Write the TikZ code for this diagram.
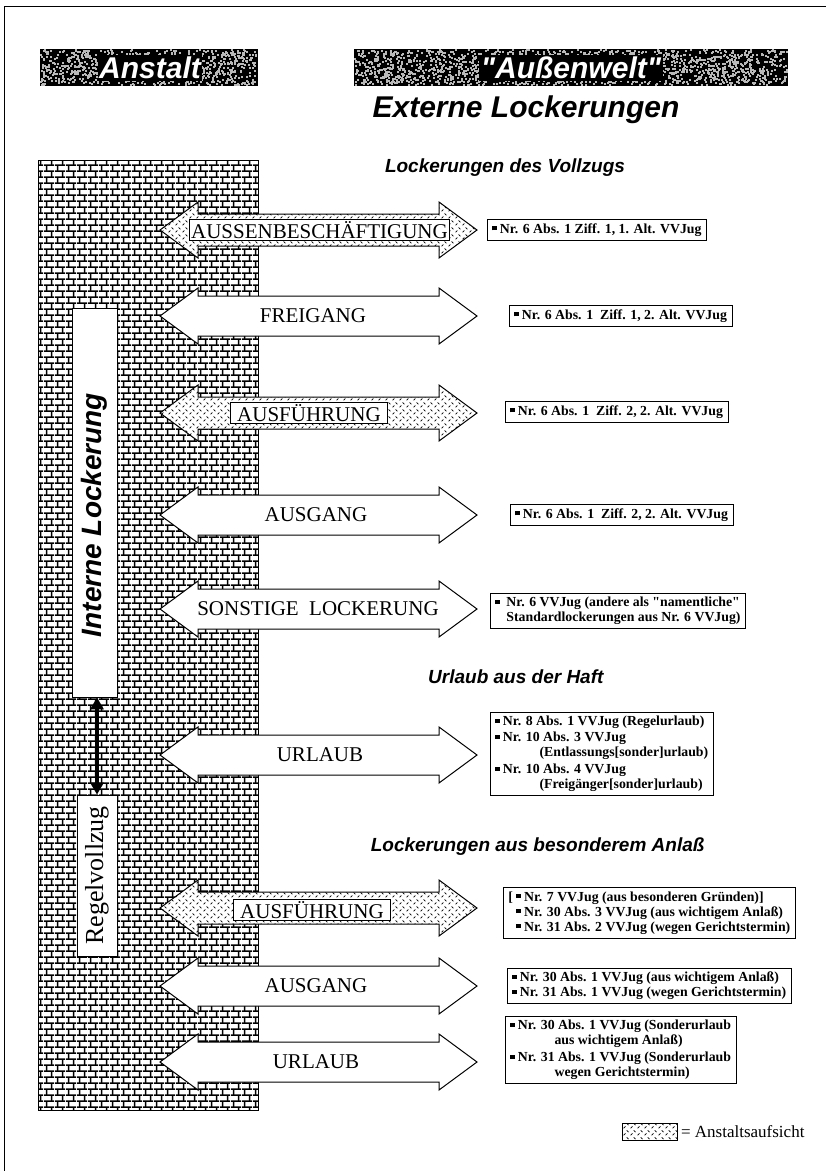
\documentclass[tikz,border=0pt]{standalone}
\usepackage{fontspec}
\setmainfont{Liberation Serif}
\newfontfamily\hel{Liberation Sans}
\usetikzlibrary{arrows.meta,patterns.meta}

\tikzdeclarepattern{
  name=bricks, type=uncolored,
  bounding box={(0pt,0pt) and (11pt,12.4pt)},
  tile size={(11pt,12.4pt)},
  code={
    \draw[line width=1.6pt] (0pt,3.1pt) -- (11pt,3.1pt);
    \draw[line width=1.6pt] (0pt,9.3pt) -- (11pt,9.3pt);
    \draw[line width=1.6pt] (2.75pt,3.1pt) -- (2.75pt,9.3pt);
    \draw[line width=1.6pt] (8.25pt,9.3pt) -- (8.25pt,12.4pt);
    \draw[line width=1.6pt] (8.25pt,0pt) -- (8.25pt,3.1pt);
  }
}
\tikzdeclarepattern{
  name=plate, type=uncolored,
  bounding box={(0pt,0pt) and (7pt,7pt)},
  tile size={(7pt,7pt)},
  code={
    \draw[line width=0.8pt] (0.8pt,0.8pt) -- (2.8pt,2.8pt);
    \draw[line width=0.8pt] (4.2pt,6.2pt) -- (6.2pt,4.2pt);
  }
}

\font\quoteserif="Liberation Serif/B" at 13.8pt
\font\quotesans="Liberation Sans/BI" at 30pt
\newcommand\sqbul{\rule[0.22em]{0.3em}{0.3em}}
\newcommand\sqs{{\quoteserif\char34}}
\newcommand\sqh{{\quotesans\char34}}
% #1 = y centre, #2 = shaft half height, #3 = style
\newcommand\bigarrow[3]{%
  \path[#3] (160,#1) -- (198,#1-28) -- (198,#1-#2) -- (439,#1-#2) -- (439,#1-28)
    -- (477,#1) -- (439,#1+28) -- (439,#1+#2) -- (198,#1+#2) -- (198,#1+28) -- cycle;}

\begin{document}
\begin{tikzpicture}[x=1pt,y=-1pt,
  header/.style={font=\hel\bfseries\itshape\fontsize{30}{30}\selectfont, text=white, fill=black, inner sep=1.5pt},
  heading/.style={font=\hel\bfseries\itshape\fontsize{19}{19}\selectfont},
  arrowlabel/.style={font=\fontsize{21}{21}\selectfont, inner sep=0pt},
  platelabel/.style={font=\fontsize{21}{21}\selectfont, draw, fill=white, line width=0.8pt, inner xsep=5pt, inner ysep=3pt},
  infobox/.style={draw, fill=white, line width=0.8pt, anchor=west, align=left, font=\bfseries\fontsize{13.8}{15}\selectfont, inner xsep=5pt, inner ysep=4pt},
  whitearrow/.style={draw, line width=1pt, line join=miter, fill=white},
  platearrow/.style={draw, line width=1pt, line join=miter, fill=white, postaction={pattern=plate}},
  vbox/.style={draw, fill=white, line width=0.8pt, inner sep=0pt}
]
\useasboundingbox (0,0) rectangle (826,1171);
\fill[white] (0,0) rectangle (826,1171);
\draw[line width=1pt] (4,1171) -- (4,6) -- (826,6);

% header boxes
\fill[black] (40,49) rectangle (258,86);
\fill[black] (354,49) rectangle (788,86);
\pgfmathsetseed{11}
\foreach \i in {1,...,900} \fill[gray!55] ({40+216*rnd},{49+35*rnd}) rectangle ++(2,2);
\foreach \i in {1,...,1800} \fill[gray!55] ({354+432*rnd},{49+35*rnd}) rectangle ++(2,2);
\node[header] (anst) at (150,68) {Anstalt};
\node[header] (welt) at (571,68) {\sqh Außenwelt\sqh};

% titles
\node[font=\hel\bfseries\itshape\fontsize{30}{30}\selectfont] (title) at (526,110) {Externe Lockerungen};
\node[heading] (h1) at (505,168) {Lockerungen des Vollzugs};
\node[heading, anchor=east] (h2) at (607,677) {Urlaub aus der Haft};
\node[heading, anchor=east] (h3) at (708,847) {Lockerungen aus besonderem Anlaß};

% wall
\fill[white] (38,160) rectangle (258,1110);
\path[pattern=bricks] (38,160) rectangle (258,1110);
\draw[line width=1pt] (38,160) rectangle (258,1110);

% internal boxes
\node[vbox, minimum width=45, minimum height=389] (intern) at (94.5,502.5) {};
\node[font=\hel\bfseries\itshape\fontsize{28}{28}\selectfont, rotate=90, inner sep=0pt] (internlabel) at (94,515) {Interne Lockerung};
\node[vbox, rotate=90, minimum width=161, minimum height=40, font=\fontsize{26}{26}\selectfont] (regel) at (97,875.5) {Regelvollzug};
\draw[line width=4pt, {Triangle[length=12pt,width=13pt]}-{Triangle[length=12pt,width=13pt]}] (regel.east |- intern.south) -- (regel.east);

% arrows
\bigarrow{230}{16}{platearrow}
\bigarrow{316}{20}{whitearrow}
\bigarrow{413}{16}{platearrow}
\bigarrow{515}{20}{whitearrow}
\bigarrow{609}{20}{whitearrow}
\bigarrow{755}{20}{whitearrow}
\bigarrow{908}{16}{platearrow}
\bigarrow{986}{20}{whitearrow}
\bigarrow{1062}{20}{whitearrow}

\node[platelabel, inner xsep=2pt, inner ysep=2pt] (a1) at (319.5,230) {AUSSENBESCHÄFTIGUNG};
\node[arrowlabel] (a2) at (313,316) {FREIGANG};
\node[platelabel, inner xsep=7pt, inner ysep=2pt] (a3) at (309,413) {AUSFÜHRUNG};
\node[arrowlabel] (a4) at (316,515) {AUSGANG};
\node[arrowlabel] (a5) at (318,609) {SONSTIGE\ \ LOCKERUNG};
\node[arrowlabel] (a6) at (320,755) {URLAUB};
\node[platelabel, inner xsep=7pt, inner ysep=2pt] (a7) at (312,910) {AUSFÜHRUNG};
\node[arrowlabel] (a8) at (316,986) {AUSGANG};
\node[arrowlabel] (a9) at (316,1062) {URLAUB};

% info boxes
\node[infobox] (b1) at (487,230) {\sqbul\ Nr. 6 Abs. 1 Ziff. 1, 1. Alt. VVJug};
\node[infobox] (b2) at (509,316) {\sqbul\ Nr. 6 Abs. 1 \ Ziff. 1, 2. Alt. VVJug};
\node[infobox] (b3) at (505,412) {\sqbul\ Nr. 6 Abs. 1 \ Ziff. 2, 2. Alt. VVJug};
\node[infobox] (b4) at (510,515) {\sqbul\ Nr. 6 Abs. 1 \ Ziff. 2, 2. Alt. VVJug};
\node[infobox] (b5) at (490,611) {\sqbul\ \ Nr. 6 VVJug (andere als \sqs namentliche\sqs\\
  \hphantom{\sqbul\ \ }Standardlockerungen aus Nr. 6 VVJug)};
\node[infobox] (b6) at (490,754) {\sqbul\ Nr. 8 Abs. 1 VVJug (Regelurlaub)\\[1pt]
  \sqbul\ Nr. 10 Abs. 3 VVJug\\
  \hspace*{3.2em}(Entlassungs[sonder]urlaub)\\[2pt]
  \sqbul\ Nr. 10 Abs. 4 VVJug\\
  \hspace*{3.2em}(Freigänger[sonder]urlaub)};
\node[infobox] (b7) at (503,913) {[ \sqbul\ Nr. 7 VVJug (aus besonderen Gründen)]\\
  \hphantom{[ }\sqbul\ Nr. 30 Abs. 3 VVJug (aus wichtigem Anlaß)\\
  \hphantom{[ }\sqbul\ Nr. 31 Abs. 2 VVJug (wegen Gerichtstermin)};
\node[infobox] (b8) at (507,986) {\sqbul\ Nr. 30 Abs. 1 VVJug (aus wichtigem Anlaß)\\
  \sqbul\ Nr. 31 Abs. 1 VVJug (wegen Gerichtstermin)};
\node[infobox] (b9) at (505,1050) {\sqbul\ Nr. 30 Abs. 1 VVJug (Sonderurlaub\\
  \hspace*{3.2em}aus wichtigem Anlaß)\\[2pt]
  \sqbul\ Nr. 31 Abs. 1 VVJug (Sonderurlaub\\
  \hspace*{3.2em}wegen Gerichtstermin)};

% legend
\node[draw, line width=0.8pt, fill=white, postaction={pattern=plate}, minimum width=55, minimum height=17, inner sep=0pt] (leg) at (650,1132) {};
\node[anchor=west, font=\fontsize{17}{17}\selectfont, inner sep=3pt] (legtext) at (leg.east) {= Anstaltsaufsicht};
\end{tikzpicture}
\end{document}
